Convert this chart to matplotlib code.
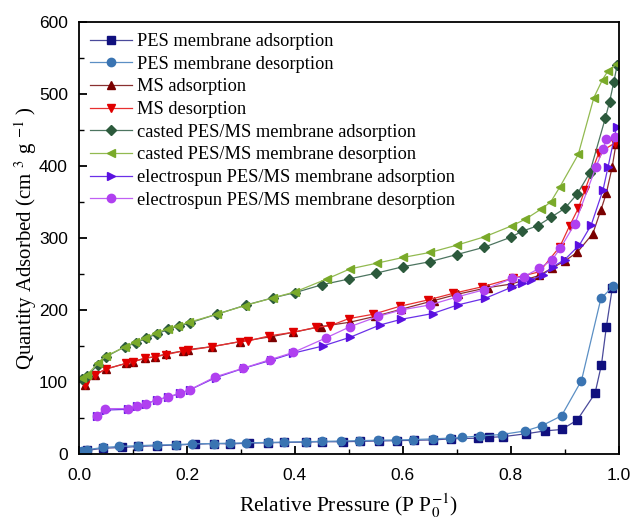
import matplotlib
matplotlib.use('Agg')
import matplotlib.pyplot as plt
from matplotlib.ticker import MultipleLocator, FormatStrFormatter

# ── data ───────────────────────────────────────────────────────────────────────

pes_ads_x = [0.005, 0.015, 0.045, 0.08, 0.11, 0.145, 0.18, 0.215, 0.25, 0.28, 0.315,
             0.35, 0.38, 0.42, 0.45, 0.49, 0.52, 0.555, 0.59, 0.62, 0.655, 0.69, 0.74,
             0.76, 0.785, 0.828, 0.863, 0.894, 0.923, 0.956, 0.968, 0.977, 0.988]
pes_ads_y = [3, 5, 8, 9, 10.5, 11.5, 12.5, 13.5, 14.5, 14, 15, 15.5, 16, 16.5, 17, 17,
             17.5, 18, 18.5, 19, 19.5, 21, 22, 23, 24, 28, 32, 34, 47, 84, 124, 176, 230]

pes_des_x = [0.99, 0.967, 0.931, 0.894, 0.857, 0.827, 0.783, 0.743, 0.709, 0.688, 0.656,
             0.619, 0.588, 0.554, 0.519, 0.486, 0.45, 0.42, 0.38, 0.35, 0.31, 0.28, 0.25,
             0.21, 0.18, 0.145, 0.11, 0.075, 0.045, 0.015, 0.005]
pes_des_y = [233, 216, 102, 53, 39, 32, 27, 25, 23, 22, 21, 20, 19.5, 19, 18.5, 18, 17.5,
             17, 16.5, 16, 15.5, 15, 14.5, 14, 13, 12.5, 11.5, 10.5, 9, 6, 4]

ms_ads_x = [0.011, 0.03, 0.05, 0.088, 0.1, 0.122, 0.141, 0.162, 0.192, 0.202, 0.246, 0.298,
            0.357, 0.397, 0.449, 0.502, 0.548, 0.597, 0.657, 0.702, 0.757, 0.801, 0.853,
            0.876, 0.9, 0.923, 0.952, 0.967, 0.977, 0.988, 0.995]
ms_ads_y = [96, 110, 118, 126, 128, 133, 135, 139, 143, 145, 149, 156, 163, 169, 177, 183,
            191, 201, 213, 222, 231, 236, 248, 258, 268, 280, 306, 339, 362, 399, 431]

ms_des_x = [0.993, 0.963, 0.937, 0.925, 0.909, 0.891, 0.853, 0.804, 0.746, 0.693, 0.647,
            0.594, 0.545, 0.5, 0.465, 0.44, 0.397, 0.352, 0.314, 0.298, 0.246, 0.202,
            0.192, 0.162, 0.141, 0.122, 0.1, 0.088, 0.05, 0.03, 0.011]
ms_des_y = [432, 418, 366, 341, 317, 288, 253, 244, 232, 223, 214, 205, 194, 188, 178, 176,
            169, 164, 157, 156, 149, 144, 143, 138, 135, 133, 128, 126, 118, 110, 96]

cast_ads_x = [0.005, 0.015, 0.035, 0.05, 0.085, 0.105, 0.125, 0.145, 0.165, 0.185, 0.205,
              0.255, 0.31, 0.36, 0.40, 0.45, 0.50, 0.55, 0.60, 0.65, 0.70, 0.75, 0.80,
              0.82, 0.85, 0.875, 0.90, 0.923, 0.946, 0.975, 0.983, 0.991, 0.997]
cast_ads_y = [104, 108, 124, 135, 149, 154, 161, 167, 173, 178, 182, 194, 207, 217, 224,
              235, 243, 251, 260, 267, 277, 287, 301, 309, 317, 329, 341, 361, 390, 466,
              489, 517, 540]

cast_des_x = [0.997, 0.98, 0.97, 0.954, 0.925, 0.891, 0.874, 0.856, 0.827, 0.802, 0.753,
              0.70, 0.651, 0.601, 0.552, 0.502, 0.459, 0.40, 0.36, 0.307, 0.255, 0.204,
              0.184, 0.164, 0.143, 0.123, 0.104, 0.086, 0.05, 0.035, 0.015, 0.005]
cast_des_y = [542, 532, 520, 495, 416, 371, 350, 340, 326, 317, 302, 290, 280, 273, 265,
              257, 243, 225, 217, 206, 194, 183, 178, 174, 168, 161, 155, 149, 136, 126,
              110, 106]

es_ads_x = [0.033, 0.05, 0.09, 0.107, 0.125, 0.144, 0.165, 0.187, 0.205, 0.253, 0.305,
            0.355, 0.397, 0.452, 0.502, 0.557, 0.597, 0.655, 0.702, 0.752, 0.803, 0.82,
            0.838, 0.86, 0.878, 0.9, 0.927, 0.949, 0.971, 0.98, 0.996]
es_ads_y = [53, 61, 62, 66, 70, 75, 79, 84, 89, 106, 119, 130, 140, 150, 162, 179, 187,
            195, 207, 216, 232, 237, 242, 249, 260, 270, 290, 318, 367, 398, 454]

es_des_x = [0.994, 0.977, 0.971, 0.958, 0.919, 0.892, 0.876, 0.853, 0.824, 0.803, 0.75,
            0.70, 0.65, 0.597, 0.554, 0.503, 0.457, 0.397, 0.354, 0.304, 0.252, 0.205,
            0.187, 0.165, 0.144, 0.125, 0.107, 0.091, 0.048, 0.033]
es_des_y = [440, 437, 423, 399, 320, 286, 269, 258, 246, 244, 228, 218, 207, 200, 191,
            177, 161, 141, 131, 119, 107, 89, 84, 79, 75, 70, 67, 63, 63, 53]

series = [
    ('PES membrane adsorption',                pes_ads_x,  pes_ads_y,  's', '#10107e', '#4a4a9a'),
    ('PES membrane desorption',                pes_des_x,  pes_des_y,  'o', '#3a74b2', '#5b8fc4'),
    ('MS adsorption',                          ms_ads_x,   ms_ads_y,   '^', '#7a0000', '#8a3030'),
    ('MS desorption',                          ms_des_x,   ms_des_y,   'v', '#e00000', '#e83030'),
    ('casted PES/MS membrane adsorption',      cast_ads_x, cast_ads_y, 'D', '#2c5a3c', '#4d7560'),
    ('casted PES/MS membrane desorption',      cast_des_x, cast_des_y, '<', '#7aaa2a', '#92ba50'),
    ('electrospun PES/MS membrane adsorption', es_ads_x,   es_ads_y,   '>', '#5a10e0', '#6a30e8'),
    ('electrospun PES/MS membrane desorption', es_des_x,   es_des_y,   'o', '#b040f0', '#c060f4'),
]

# ── plot ───────────────────────────────────────────────────────────────────────

plt.rcParams['mathtext.fontset'] = 'stix'

fig = plt.figure(figsize=(6.32, 5.23), dpi=100)
ax = fig.add_axes([0.125, 0.132, 0.854, 0.826])

for label, x, y, mk, mc, lc in series:
    ms = 5.0 if mk == 'D' else 6.0
    ax.plot(x, y, '-', color=lc, lw=0.9, marker=mk, markersize=ms,
            markerfacecolor=mc, markeredgecolor=mc, label=label)

ax.set_xlim(0, 1.0)
ax.set_ylim(0, 600)
ax.xaxis.set_major_locator(MultipleLocator(0.2))
ax.xaxis.set_minor_locator(MultipleLocator(0.1))
ax.yaxis.set_major_locator(MultipleLocator(100))
ax.yaxis.set_minor_locator(MultipleLocator(50))
ax.xaxis.set_major_formatter(FormatStrFormatter('%.1f'))
ax.tick_params(which='both', direction='in', top=False, right=False)
ax.tick_params(which='major', length=6, width=1.3, labelsize=12.5)
ax.tick_params(axis='x', which='major', pad=10)
ax.tick_params(axis='y', which='major', pad=8)
ax.tick_params(which='minor', length=3.5, width=1.0)
for lbl in ax.get_xticklabels() + ax.get_yticklabels():
    lbl.set_family('Liberation Sans')
for sp in ax.spines.values():
    sp.set_linewidth(1.3)

ax.set_xlabel('Relative Pressure (P P$_0^{-1}$)', family='Liberation Serif', fontsize=15.5,
              labelpad=6)
ax.set_ylabel('Quantity Adsorbed (cm $^{3}$ g $^{-1}$ )', family='Liberation Serif',
              fontsize=15, labelpad=0)

ax.legend(loc='upper left', frameon=False, prop={'family': 'Liberation Serif', 'size': 13.2},
          handlelength=2.3, handletextpad=0.25, labelspacing=0.31, borderaxespad=0.3,
          borderpad=0.3)

fig.savefig('out.png', dpi=100)
